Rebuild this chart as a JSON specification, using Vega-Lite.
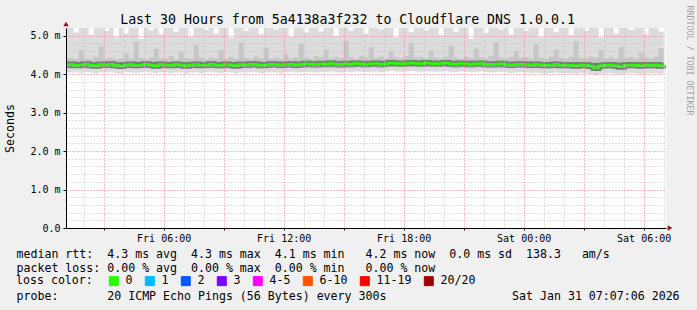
{
  "$schema": "https://vega.github.io/schema/vega-lite/v6.json",
  "width": 600,
  "height": 200,
  "autosize": {"type": "none"},
  "padding": {"left": 66, "top": 28, "right": 31, "bottom": 82},
  "background": "#f0f0f0",
  "title": {
    "text": "Last 30 Hours from 5a4138a3f232 to Cloudflare DNS 1.0.0.1",
    "font": "DejaVu Sans Mono", "fontSize": 13.25, "fontWeight": "normal", "color": "#000000",
    "anchor": "middle", "frame": "group", "dx": -18.5, "dy": 36, "baseline": "alphabetic", "offset": 4
  },
  "config": {
    "view": {"fill": "#ffffff", "stroke": null},
    "font": "DejaVu Sans Mono"
  },
  "data": {"values": [
    {"t":"2026-01-30T01:00Z","m":4.24,"lo":4.05,"ml":4.16,"mh":4.40,"hi":5.2},
    {"t":"2026-01-30T01:15Z","m":4.25,"lo":4.04,"ml":4.15,"mh":4.42,"hi":5.2},
    {"t":"2026-01-30T01:30Z","m":4.23,"lo":4.06,"ml":4.16,"mh":4.38,"hi":5.08},
    {"t":"2026-01-30T01:45Z","m":4.24,"lo":4.03,"ml":4.15,"mh":4.62,"hi":5.2},
    {"t":"2026-01-30T02:00Z","m":4.26,"lo":4.05,"ml":4.17,"mh":4.41,"hi":5.2},
    {"t":"2026-01-30T02:15Z","m":4.23,"lo":4.04,"ml":4.15,"mh":4.39,"hi":5.02},
    {"t":"2026-01-30T02:30Z","m":4.22,"lo":4.02,"ml":4.14,"mh":4.45,"hi":5.2},
    {"t":"2026-01-30T02:45Z","m":4.25,"lo":4.05,"ml":4.16,"mh":4.72,"hi":5.2},
    {"t":"2026-01-30T03:00Z","m":4.24,"lo":4.04,"ml":4.16,"mh":4.40,"hi":5.12},
    {"t":"2026-01-30T03:15Z","m":4.26,"lo":4.06,"ml":4.17,"mh":4.43,"hi":5.2},
    {"t":"2026-01-30T03:30Z","m":4.23,"lo":4.03,"ml":4.15,"mh":4.38,"hi":4.96},
    {"t":"2026-01-30T03:45Z","m":4.21,"lo":4.02,"ml":4.13,"mh":4.41,"hi":5.2},
    {"t":"2026-01-30T04:00Z","m":4.24,"lo":4.05,"ml":4.16,"mh":4.55,"hi":5.06},
    {"t":"2026-01-30T04:15Z","m":4.25,"lo":4.04,"ml":4.16,"mh":4.40,"hi":5.2},
    {"t":"2026-01-30T04:30Z","m":4.23,"lo":4.03,"ml":4.15,"mh":4.84,"hi":5.2},
    {"t":"2026-01-30T04:45Z","m":4.24,"lo":4.05,"ml":4.16,"mh":4.42,"hi":4.92},
    {"t":"2026-01-30T05:00Z","m":4.26,"lo":4.06,"ml":4.17,"mh":4.39,"hi":5.2},
    {"t":"2026-01-30T05:15Z","m":4.24,"lo":4.04,"ml":4.15,"mh":4.44,"hi":5.14},
    {"t":"2026-01-30T05:30Z","m":4.22,"lo":4.03,"ml":4.14,"mh":4.66,"hi":5.2},
    {"t":"2026-01-30T05:45Z","m":4.25,"lo":4.05,"ml":4.16,"mh":4.41,"hi":5.04},
    {"t":"2026-01-30T06:00Z","m":4.24,"lo":4.04,"ml":4.16,"mh":4.40,"hi":5.2},
    {"t":"2026-01-30T06:15Z","m":4.23,"lo":4.03,"ml":4.15,"mh":4.47,"hi":5.2},
    {"t":"2026-01-30T06:30Z","m":4.25,"lo":4.05,"ml":4.16,"mh":4.38,"hi":5.10},
    {"t":"2026-01-30T06:45Z","m":4.24,"lo":4.04,"ml":4.15,"mh":4.58,"hi":5.2},
    {"t":"2026-01-30T07:00Z","m":4.22,"lo":4.02,"ml":4.14,"mh":4.42,"hi":5.2},
    {"t":"2026-01-30T07:15Z","m":4.24,"lo":4.04,"ml":4.15,"mh":4.40,"hi":4.98},
    {"t":"2026-01-30T07:30Z","m":4.25,"lo":4.05,"ml":4.16,"mh":4.76,"hi":5.2},
    {"t":"2026-01-30T07:45Z","m":4.23,"lo":4.03,"ml":4.15,"mh":4.43,"hi":5.2},
    {"t":"2026-01-30T08:00Z","m":4.24,"lo":4.04,"ml":4.16,"mh":4.39,"hi":5.15},
    {"t":"2026-01-30T08:15Z","m":4.26,"lo":4.06,"ml":4.17,"mh":4.44,"hi":5.2},
    {"t":"2026-01-30T08:30Z","m":4.24,"lo":4.04,"ml":4.15,"mh":4.40,"hi":5.06},
    {"t":"2026-01-30T08:45Z","m":4.23,"lo":4.03,"ml":4.15,"mh":4.63,"hi":5.2},
    {"t":"2026-01-30T09:00Z","m":4.25,"lo":4.05,"ml":4.16,"mh":4.41,"hi":5.2},
    {"t":"2026-01-30T09:15Z","m":4.24,"lo":4.04,"ml":4.15,"mh":4.45,"hi":4.94},
    {"t":"2026-01-30T09:30Z","m":4.22,"lo":4.02,"ml":4.14,"mh":4.40,"hi":5.2},
    {"t":"2026-01-30T09:45Z","m":4.25,"lo":4.05,"ml":4.16,"mh":4.82,"hi":5.2},
    {"t":"2026-01-30T10:00Z","m":4.24,"lo":4.04,"ml":4.16,"mh":4.42,"hi":5.12},
    {"t":"2026-01-30T10:15Z","m":4.26,"lo":4.06,"ml":4.17,"mh":4.39,"hi":5.2},
    {"t":"2026-01-30T10:30Z","m":4.25,"lo":4.05,"ml":4.16,"mh":4.46,"hi":5.2},
    {"t":"2026-01-30T10:45Z","m":4.23,"lo":4.03,"ml":4.15,"mh":4.41,"hi":5.03},
    {"t":"2026-01-30T11:00Z","m":4.24,"lo":4.04,"ml":4.15,"mh":4.68,"hi":5.2},
    {"t":"2026-01-30T11:15Z","m":4.26,"lo":4.05,"ml":4.17,"mh":4.40,"hi":5.2},
    {"t":"2026-01-30T11:30Z","m":4.25,"lo":4.04,"ml":4.16,"mh":4.43,"hi":5.16},
    {"t":"2026-01-30T11:45Z","m":4.24,"lo":4.03,"ml":4.15,"mh":4.38,"hi":5.2},
    {"t":"2026-01-30T12:00Z","m":4.25,"lo":4.05,"ml":4.16,"mh":4.52,"hi":5.2},
    {"t":"2026-01-30T12:15Z","m":4.26,"lo":4.06,"ml":4.17,"mh":4.41,"hi":4.97},
    {"t":"2026-01-30T12:30Z","m":4.24,"lo":4.04,"ml":4.15,"mh":4.44,"hi":5.2},
    {"t":"2026-01-30T12:45Z","m":4.25,"lo":4.05,"ml":4.16,"mh":4.79,"hi":5.2},
    {"t":"2026-01-30T13:00Z","m":4.27,"lo":4.06,"ml":4.17,"mh":4.42,"hi":5.08},
    {"t":"2026-01-30T13:15Z","m":4.26,"lo":4.05,"ml":4.16,"mh":4.40,"hi":5.2},
    {"t":"2026-01-30T13:30Z","m":4.25,"lo":4.04,"ml":4.16,"mh":4.47,"hi":5.2},
    {"t":"2026-01-30T13:45Z","m":4.27,"lo":4.06,"ml":4.18,"mh":4.43,"hi":5.11},
    {"t":"2026-01-30T14:00Z","m":4.26,"lo":4.05,"ml":4.17,"mh":4.64,"hi":5.2},
    {"t":"2026-01-30T14:15Z","m":4.28,"lo":4.07,"ml":4.18,"mh":4.41,"hi":5.2},
    {"t":"2026-01-30T14:30Z","m":4.26,"lo":4.05,"ml":4.17,"mh":4.45,"hi":4.99},
    {"t":"2026-01-30T14:45Z","m":4.25,"lo":4.04,"ml":4.16,"mh":4.42,"hi":5.2},
    {"t":"2026-01-30T15:00Z","m":4.27,"lo":4.06,"ml":4.17,"mh":4.86,"hi":5.2},
    {"t":"2026-01-30T15:15Z","m":4.26,"lo":4.05,"ml":4.16,"mh":4.44,"hi":5.13},
    {"t":"2026-01-30T15:30Z","m":4.28,"lo":4.07,"ml":4.18,"mh":4.40,"hi":5.2},
    {"t":"2026-01-30T15:45Z","m":4.27,"lo":4.06,"ml":4.17,"mh":4.48,"hi":5.2},
    {"t":"2026-01-30T16:00Z","m":4.26,"lo":4.05,"ml":4.16,"mh":4.43,"hi":5.05},
    {"t":"2026-01-30T16:15Z","m":4.27,"lo":4.06,"ml":4.17,"mh":4.70,"hi":5.2},
    {"t":"2026-01-30T16:30Z","m":4.28,"lo":4.07,"ml":4.18,"mh":4.42,"hi":5.2},
    {"t":"2026-01-30T16:45Z","m":4.26,"lo":4.05,"ml":4.16,"mh":4.45,"hi":5.17},
    {"t":"2026-01-30T17:00Z","m":4.27,"lo":4.06,"ml":4.17,"mh":4.41,"hi":5.2},
    {"t":"2026-01-30T17:15Z","m":4.29,"lo":4.08,"ml":4.19,"mh":4.58,"hi":5.2},
    {"t":"2026-01-30T17:30Z","m":4.28,"lo":4.07,"ml":4.18,"mh":4.44,"hi":4.95},
    {"t":"2026-01-30T17:45Z","m":4.27,"lo":4.06,"ml":4.17,"mh":4.42,"hi":5.2},
    {"t":"2026-01-30T18:00Z","m":4.28,"lo":4.07,"ml":4.18,"mh":4.47,"hi":5.2},
    {"t":"2026-01-30T18:15Z","m":4.29,"lo":4.08,"ml":4.19,"mh":4.81,"hi":5.09},
    {"t":"2026-01-30T18:30Z","m":4.28,"lo":4.07,"ml":4.18,"mh":4.43,"hi":5.2},
    {"t":"2026-01-30T18:45Z","m":4.27,"lo":4.06,"ml":4.17,"mh":4.45,"hi":5.2},
    {"t":"2026-01-30T19:00Z","m":4.29,"lo":4.07,"ml":4.18,"mh":4.42,"hi":5.14},
    {"t":"2026-01-30T19:15Z","m":4.28,"lo":4.07,"ml":4.18,"mh":4.62,"hi":5.2},
    {"t":"2026-01-30T19:30Z","m":4.27,"lo":4.06,"ml":4.17,"mh":4.44,"hi":5.2},
    {"t":"2026-01-30T19:45Z","m":4.28,"lo":4.07,"ml":4.18,"mh":4.41,"hi":5.02},
    {"t":"2026-01-30T20:00Z","m":4.29,"lo":4.08,"ml":4.19,"mh":4.46,"hi":5.2},
    {"t":"2026-01-30T20:15Z","m":4.27,"lo":4.06,"ml":4.17,"mh":4.74,"hi":5.2},
    {"t":"2026-01-30T20:30Z","m":4.26,"lo":4.05,"ml":4.16,"mh":4.43,"hi":5.11},
    {"t":"2026-01-30T20:45Z","m":4.28,"lo":4.07,"ml":4.18,"mh":4.40,"hi":5.2},
    {"t":"2026-01-30T21:00Z","m":4.27,"lo":4.06,"ml":4.17,"mh":4.45,"hi":5.2},
    {"t":"2026-01-30T21:15Z","m":4.26,"lo":4.05,"ml":4.16,"mh":4.42,"hi":4.93},
    {"t":"2026-01-30T21:30Z","m":4.27,"lo":4.06,"ml":4.17,"mh":4.66,"hi":5.2},
    {"t":"2026-01-30T21:45Z","m":4.28,"lo":4.07,"ml":4.18,"mh":4.44,"hi":5.2},
    {"t":"2026-01-30T22:00Z","m":4.26,"lo":4.05,"ml":4.16,"mh":4.41,"hi":5.07},
    {"t":"2026-01-30T22:15Z","m":4.25,"lo":4.04,"ml":4.16,"mh":4.47,"hi":5.2},
    {"t":"2026-01-30T22:30Z","m":4.26,"lo":4.05,"ml":4.16,"mh":4.83,"hi":5.2},
    {"t":"2026-01-30T22:45Z","m":4.27,"lo":4.06,"ml":4.17,"mh":4.43,"hi":5.16},
    {"t":"2026-01-30T23:00Z","m":4.25,"lo":4.04,"ml":4.16,"mh":4.41,"hi":5.2},
    {"t":"2026-01-30T23:15Z","m":4.24,"lo":4.03,"ml":4.15,"mh":4.45,"hi":5.03},
    {"t":"2026-01-30T23:30Z","m":4.25,"lo":4.04,"ml":4.16,"mh":4.60,"hi":5.2},
    {"t":"2026-01-30T23:45Z","m":4.26,"lo":4.05,"ml":4.16,"mh":4.42,"hi":5.2},
    {"t":"2026-01-31T00:00Z","m":4.25,"lo":4.04,"ml":4.16,"mh":4.44,"hi":5.12},
    {"t":"2026-01-31T00:15Z","m":4.24,"lo":4.03,"ml":4.15,"mh":4.40,"hi":5.2},
    {"t":"2026-01-31T00:30Z","m":4.25,"lo":4.04,"ml":4.16,"mh":4.77,"hi":5.2},
    {"t":"2026-01-31T00:45Z","m":4.24,"lo":4.03,"ml":4.15,"mh":4.43,"hi":4.96},
    {"t":"2026-01-31T01:00Z","m":4.23,"lo":4.02,"ml":4.14,"mh":4.41,"hi":5.2},
    {"t":"2026-01-31T01:15Z","m":4.24,"lo":4.03,"ml":4.15,"mh":4.46,"hi":5.2},
    {"t":"2026-01-31T01:30Z","m":4.25,"lo":4.04,"ml":4.16,"mh":4.64,"hi":5.09},
    {"t":"2026-01-31T01:45Z","m":4.23,"lo":4.02,"ml":4.14,"mh":4.42,"hi":5.2},
    {"t":"2026-01-31T02:00Z","m":4.24,"lo":4.03,"ml":4.15,"mh":4.40,"hi":5.2},
    {"t":"2026-01-31T02:15Z","m":4.23,"lo":4.02,"ml":4.14,"mh":4.45,"hi":5.01},
    {"t":"2026-01-31T02:30Z","m":4.22,"lo":4.01,"ml":4.13,"mh":4.85,"hi":5.2},
    {"t":"2026-01-31T02:45Z","m":4.24,"lo":4.03,"ml":4.15,"mh":4.42,"hi":5.2},
    {"t":"2026-01-31T03:00Z","m":4.23,"lo":4.02,"ml":4.14,"mh":4.41,"hi":5.13},
    {"t":"2026-01-31T03:15Z","m":4.21,"lo":4.00,"ml":4.12,"mh":4.46,"hi":5.2},
    {"t":"2026-01-31T03:30Z","m":4.16,"lo":3.98,"ml":4.08,"mh":4.43,"hi":5.2},
    {"t":"2026-01-31T03:45Z","m":4.22,"lo":4.01,"ml":4.13,"mh":4.62,"hi":4.94},
    {"t":"2026-01-31T04:00Z","m":4.23,"lo":4.02,"ml":4.14,"mh":4.41,"hi":5.2},
    {"t":"2026-01-31T04:15Z","m":4.24,"lo":4.03,"ml":4.15,"mh":4.44,"hi":5.2},
    {"t":"2026-01-31T04:30Z","m":4.22,"lo":4.01,"ml":4.13,"mh":4.40,"hi":5.06},
    {"t":"2026-01-31T04:45Z","m":4.19,"lo":3.99,"ml":4.11,"mh":4.71,"hi":5.2},
    {"t":"2026-01-31T05:00Z","m":4.23,"lo":4.02,"ml":4.14,"mh":4.42,"hi":5.2},
    {"t":"2026-01-31T05:15Z","m":4.24,"lo":4.03,"ml":4.15,"mh":4.45,"hi":5.15},
    {"t":"2026-01-31T05:30Z","m":4.23,"lo":4.02,"ml":4.14,"mh":4.41,"hi":5.2},
    {"t":"2026-01-31T05:45Z","m":4.22,"lo":4.01,"ml":4.14,"mh":4.57,"hi":5.2},
    {"t":"2026-01-31T06:00Z","m":4.24,"lo":4.03,"ml":4.15,"mh":4.43,"hi":5.04},
    {"t":"2026-01-31T06:15Z","m":4.23,"lo":4.02,"ml":4.14,"mh":4.40,"hi":5.2},
    {"t":"2026-01-31T06:30Z","m":4.24,"lo":4.03,"ml":4.15,"mh":4.46,"hi":5.2},
    {"t":"2026-01-31T06:45Z","m":4.22,"lo":4.01,"ml":4.14,"mh":4.68,"hi":5.11},
    {"t":"2026-01-31T07:00Z","m":4.23,"lo":4.02,"ml":4.14,"mh":4.42,"hi":5.2}
  ]},
  "encoding": {
    "x": {
      "field": "t", "type": "temporal",
      "scale": {"type": "utc", "domain": [1769735220000, 1769843220000]},
      "axis": {
        "orient": "bottom",
        "zindex": 1,
        "tickCount": 30,
        "labelExpr": "utchours(datum.value) % 6 == 0 ? utcFormat(datum.value, '%a %H:%M') : ''",
        "labelFont": "DejaVu Sans Mono", "labelFontSize": 10, "labelColor": "#000000",
        "labelPadding": 3, "labelOverlap": false, "labelFlush": false,
        "domainColor": "#000000", "domainWidth": 1,
        "ticks": true, "tickSize": 2, "tickColor": "#000000",
        "tickOpacity": {"condition": {"test": "utchours(datum.value) % 3 == 0", "value": 1}, "value": 0},
        "grid": true,
        "gridColor": {"condition": {"test": "utchours(datum.value) % 3 == 0", "value": "#f08080"}, "value": "#c4c4c4"},
        "gridDash": [1, 2],
        "title": [
          "median\u00a0rtt:\u00a0\u00a04.3\u00a0ms\u00a0avg\u00a0\u00a04.3\u00a0ms\u00a0max\u00a0\u00a04.1\u00a0ms\u00a0min\u00a0\u00a0\u00a04.2\u00a0ms\u00a0now\u00a0\u00a00.0\u00a0ms\u00a0sd\u00a0\u00a0138.3\u00a0\u00a0\u00a0am/s",
          "packet\u00a0loss:\u00a00.00\u00a0%\u00a0avg\u00a0\u00a00.00\u00a0%\u00a0max\u00a0\u00a00.00\u00a0%\u00a0min\u00a0\u00a0\u00a00.00\u00a0%\u00a0now",
          "\u200b",
          "probe:\u00a0\u00a0\u00a0\u00a0\u00a0\u00a0\u00a020\u00a0ICMP\u00a0Echo\u00a0Pings\u00a0(56\u00a0Bytes)\u00a0every\u00a0300s\u00a0\u00a0\u00a0\u00a0\u00a0\u00a0\u00a0\u00a0\u00a0\u00a0\u00a0\u00a0\u00a0\u00a0\u00a0\u00a0\u00a0\u00a0Sat\u00a0Jan\u00a031\u00a007:07:06\u00a02026"
        ],
        "titleFont": "DejaVu Sans Mono", "titleFontSize": 11.6, "titleFontWeight": "normal", "titleColor": "#000000",
        "titleX": -50, "titleY": 29, "titleAlign": "left", "titleAnchor": "start", "titleBaseline": "alphabetic",
        "titleLineHeight": 14.1, "titleLimit": 1000
      }
    }
  },
  "layer": [
    {
      "mark": {"type": "area", "interpolate": "step-after", "color": "#dcdcdc", "clip": true},
      "encoding": {
        "y": {
          "field": "lo", "type": "quantitative",
          "scale": {"domain": [0, 5.2], "nice": false, "zero": false},
          "axis": {
            "orient": "left",
            "zindex": 1,
            "values": [0, 0.2, 0.4, 0.6, 0.8, 1, 1.2, 1.4, 1.6, 1.8, 2, 2.2, 2.4, 2.6, 2.8, 3, 3.2, 3.4, 3.6, 3.8, 4, 4.2, 4.4, 4.6, 4.8, 5],
            "labelExpr": "datum.value == 0 ? '0.0' : (abs(datum.value - round(datum.value)) < 0.001 ? format(datum.value, '.1f') + ' m' : '')",
            "labelFont": "DejaVu Sans Mono", "labelFontSize": 10, "labelColor": "#000000",
            "labelPadding": 3, "labelOverlap": false, "labelFlush": false,
            "domainColor": "#000000", "domainWidth": 1,
            "ticks": true, "tickSize": 3, "tickColor": "#000000",
            "tickOpacity": {"condition": {"test": "abs(datum.value - round(datum.value)) < 0.001", "value": 1}, "value": 0},
            "grid": true,
            "gridColor": {"condition": {"test": "abs(datum.value - round(datum.value)) < 0.001", "value": "#f08080"}, "value": "#c4c4c4"},
            "gridDash": [1, 2],
            "title": "Seconds",
            "titleFont": "DejaVu Sans Mono", "titleFontSize": 11.6, "titleFontWeight": "normal", "titleColor": "#000000",
            "titleX": -56, "titleY": 100, "titleAngle": -90, "titleAlign": "center", "titleBaseline": "middle"
          }
        },
        "y2": {"field": "hi"}
      }
    },
    {
      "mark": {"type": "area", "interpolate": "step-after", "color": "#c6c6c6", "clip": true},
      "encoding": {
        "y": {"field": "ml", "type": "quantitative", "axis": null},
        "y2": {"field": "mh"}
      }
    },
    {
      "mark": {"type": "line", "interpolate": "step-after", "color": "#3a3a3a", "strokeWidth": 6, "opacity": 0.55, "clip": true},
      "encoding": {
        "y": {"field": "m", "type": "quantitative", "axis": null}
      }
    },
    {
      "mark": {"type": "line", "interpolate": "step-after", "strokeWidth": 2.5, "clip": true},
      "encoding": {
        "y": {"field": "m", "type": "quantitative", "axis": null},
        "color": {
          "datum": "0", "type": "nominal",
          "scale": {
            "domain": ["0", "1", "2", "3", "4-5", "6-10", "11-19", "20/20"],
            "range": ["#26ff00", "#00b8ff", "#0059ff", "#7e00ff", "#ff00ff", "#ff5500", "#ff0000", "#a10000"]
          },
          "legend": {
            "title": "loss color:",
            "orient": "none", "legendX": -50, "legendY": 247,
            "direction": "horizontal",
            "titleOrient": "left", "titleFont": "DejaVu Sans Mono", "titleFontSize": 11.6, "titleFontWeight": "normal", "titleColor": "#000000",
            "titlePadding": 15,
            "labelFont": "DejaVu Sans Mono", "labelFontSize": 11.6, "labelColor": "#000000",
            "labelOffset": 6, "columnPadding": 10, "padding": 0,
            "symbolType": "square", "symbolSize": 81, "symbolStrokeWidth": 1, "symbolStrokeColor": "#000000",
            "encode": {"symbols": {"update": {
              "fill": {"scale": "color", "field": "value"},
              "stroke": {"value": "#000000"},
              "strokeWidth": {"value": 1},
              "opacity": {"value": 1}
            }}}
          }
        }
      }
    },
    {
      "data": {"values": [
        {"t": "2026-01-30T01:07Z", "v": 5.2}
      ]},
      "mark": {"type": "point", "shape": "triangle-up", "filled": true, "color": "#991111", "size": 30, "clip": false, "opacity": 1, "yOffset": -4},
      "encoding": {
        "y": {
          "field": "v", "type": "quantitative",
          "axis": {
            "orient": "right", "domain": false, "ticks": false, "labels": false, "grid": false,
            "title": "RRDTOOL / TOBI OETIKER",
            "titleFont": "DejaVu Sans Mono", "titleFontSize": 8.3, "titleFontWeight": "normal", "titleColor": "#a0a0a0",
            "titleX": 22, "titleY": 32, "titleAngle": 90, "titleAlign": "center", "titleBaseline": "middle"
          }
        }
      }
    },
    {
      "data": {"values": [
        {"t": "2026-01-31T07:07Z", "v": 0}
      ]},
      "mark": {"type": "point", "shape": "triangle-right", "filled": true, "color": "#991111", "size": 30, "clip": false, "opacity": 1, "xOffset": 4},
      "encoding": {
        "y": {"field": "v", "type": "quantitative", "axis": null}
      }
    }
  ],
  "resolve": {"axis": {"y": "independent"}}
}
